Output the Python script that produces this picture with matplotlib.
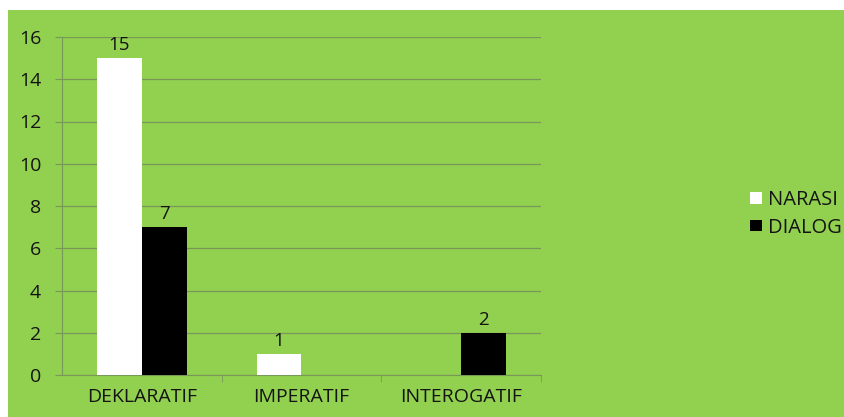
import matplotlib.pyplot as plt
from matplotlib.patches import Rectangle, Patch

categories = ["DEKLARATIF", "IMPERATIF", "INTEROGATIF"]
narasi = [15, 1, 0]
dialog = [7, 0, 2]
series_names = ["NARASI", "DIALOG"]

green = "#92d050"
text_col = "#141414"
grid_col = "#78985a"

plt.rcParams['font.family'] = ['Open Sans', 'DejaVu Sans']

fig = plt.figure(figsize=(8.44, 4.17), dpi=100)
fig.patch.set_facecolor("white")
fig.patches.append(Rectangle((8 / 844, 0), 1, 1 - 10 / 417, transform=fig.transFigure,
                             facecolor=green, edgecolor="none", zorder=-10))

ax = fig.add_axes([62 / 844, 1 - 375 / 417, (541 - 62) / 844, (375 - 37) / 417])
ax.set_facecolor("none")

x = list(range(len(categories)))
w = 0.28
b1 = ax.bar([i - w / 2 for i in x], narasi, w, color="white", zorder=3)
b2 = ax.bar([i + w / 2 for i in x], dialog, w, color="black", zorder=3)

# value labels only on bars that exist
for bars, vals in ((b1, narasi), (b2, dialog)):
    for r, v in zip(bars, vals):
        if v > 0:
            ax.text(r.get_x() + r.get_width() / 2, v + 0.2, str(v), ha="center", va="bottom",
                    fontsize=13.5, color=text_col)

ax.set_xlim(-0.5, 2.5)
ax.set_ylim(0, 16)
ax.set_yticks(range(0, 17, 2))
ax.yaxis.grid(True, color=grid_col, linewidth=0.9, zorder=1)
ax.set_axisbelow(True)

ax.set_xticks(x)
ax.set_xticklabels(categories)
ax.set_xticks([0.5, 1.5, 2.5], minor=True)
ax.tick_params(axis="x", which="major", length=0, pad=9, labelsize=14, labelcolor=text_col)
ax.tick_params(axis="x", which="minor", length=5, color=grid_col, direction="out")
ax.tick_params(axis="y", length=5, color=grid_col, pad=10, labelsize=14, labelcolor=text_col)

for s in ("top", "right"):
    ax.spines[s].set_visible(False)
ax.spines["left"].set_color(grid_col)
ax.spines["bottom"].set_color(grid_col)

handles = [Patch(facecolor="white", edgecolor="none"), Patch(facecolor="black", edgecolor="none")]
fig.legend(handles, series_names, loc="center left", bbox_to_anchor=(742 / 844, 1 - 214 / 417),
           frameon=False, fontsize=14.5, labelcolor=text_col, handlelength=0.6, handleheight=0.5,
           handletextpad=0.3, labelspacing=0.38, borderaxespad=0)

fig.savefig("out.png", dpi=100)
